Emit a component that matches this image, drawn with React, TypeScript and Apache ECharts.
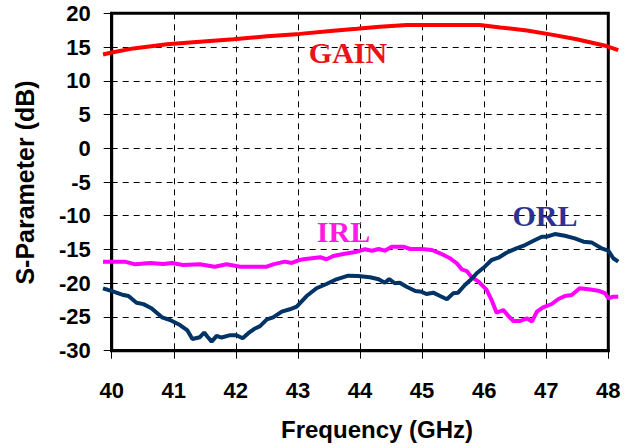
import React, { useEffect, useRef } from "react";
import * as echarts from "echarts";

const xTicks = [40, 41, 42, 43, 44, 45, 46, 47, 48];
const yTicks = [-30, -25, -20, -15, -10, -5, 0, 5, 10, 15, 20];

const gainData: number[][] = [
  [39.86, 13.9], [40.0, 14.2], [40.35, 14.8], [40.89, 15.4], [41.42, 15.8],
  [41.96, 16.15], [42.5, 16.6], [43.03, 16.95], [43.57, 17.4], [43.95, 17.7],
  [44.32, 18.0], [44.75, 18.25], [45.0, 18.25], [45.5, 18.25], [45.93, 18.25],
  [46.26, 17.9], [46.69, 17.45], [47.11, 16.8], [47.49, 16.15], [47.97, 15.15],
  [48.16, 14.55],
];

const irlData: number[][] = [
  [39.86, -16.8], [40.21, -16.8], [40.38, -17.2], [40.62, -17.0], [40.83, -17.15],
  [40.97, -17.0], [41.15, -17.3], [41.42, -17.2], [41.66, -17.55], [41.85, -17.2],
  [42.07, -17.55], [42.5, -17.55], [42.6, -17.2], [42.79, -16.8], [42.9, -17.0],
  [43.03, -16.55], [43.09, -16.45], [43.36, -16.15], [43.46, -16.45], [43.57, -15.97],
  [43.73, -15.67], [43.95, -15.33], [44.08, -14.97], [44.19, -15.18], [44.3, -14.93],
  [44.4, -15.18], [44.51, -14.59], [44.7, -14.59], [44.81, -14.93], [44.99, -14.93],
  [45.16, -15.08], [45.29, -15.57], [45.45, -16.3], [45.56, -17.05], [45.64, -17.95],
  [45.72, -18.2], [45.8, -19.1], [45.91, -19.77], [46.04, -21.0], [46.12, -22.49],
  [46.2, -24.37], [46.31, -23.97], [46.39, -24.86], [46.47, -25.6], [46.58, -25.6],
  [46.69, -25.2], [46.77, -25.7], [46.85, -24.22], [46.95, -23.57], [47.09, -23.08],
  [47.19, -22.38], [47.3, -21.9], [47.41, -21.75], [47.54, -20.75], [47.68, -20.9],
  [47.84, -21.11], [47.95, -21.5], [48.0, -22.23], [48.08, -22.0], [48.16, -22.0],
];

const orlData: number[][] = [
  [39.86, -20.75], [40.03, -21.26], [40.19, -21.75], [40.27, -21.9], [40.4, -22.9],
  [40.51, -23.1], [40.64, -23.7], [40.81, -25.05], [40.94, -25.45], [41.1, -26.2],
  [41.22, -27.0], [41.3, -28.27], [41.42, -28.0], [41.49, -27.3], [41.54, -27.9],
  [41.61, -28.65], [41.69, -27.8], [41.77, -28.05], [41.91, -27.7], [42.01, -27.7],
  [42.11, -28.15], [42.2, -27.4], [42.31, -26.7], [42.39, -26.35], [42.5, -25.35],
  [42.6, -25.05], [42.74, -24.2], [42.87, -23.86], [42.98, -23.48], [43.14, -21.9],
  [43.3, -20.75], [43.46, -20.12], [43.62, -19.42], [43.81, -18.88], [43.97, -18.93],
  [44.16, -19.12], [44.3, -19.42], [44.4, -19.92], [44.47, -19.37], [44.56, -20.0],
  [44.64, -19.92], [44.75, -20.52], [44.89, -21.15], [44.99, -21.26], [45.07, -21.6],
  [45.18, -21.4], [45.29, -21.9], [45.4, -22.38], [45.5, -21.5], [45.58, -21.4],
  [45.69, -20.26], [45.77, -19.6], [45.88, -18.53], [46.01, -17.55], [46.12, -16.56],
  [46.23, -16.22], [46.36, -15.48], [46.52, -14.83], [46.66, -14.34], [46.82, -13.6],
  [46.93, -13.11], [47.01, -13.11], [47.14, -12.71], [47.3, -12.96], [47.46, -13.35],
  [47.6, -13.85], [47.73, -13.95], [47.89, -14.83], [48.0, -15.18], [48.08, -16.3],
  [48.16, -16.81],
];

const seriesNames = ["GAIN", "IRL", "ORL"];
const xTitle = "Frequency (GHz)";
const yTitle = "S-Parameter (dB)";

export default function App() {
  const ref = useRef<HTMLDivElement>(null);
  useEffect(() => {
    if (!ref.current) return;
    const chart = echarts.init(ref.current, undefined, { renderer: "svg" });
    const sans = "Liberation Sans, Arial, sans-serif";
    const serif = "Liberation Serif, Times New Roman, serif";
    const gridLine = { show: true, lineStyle: { color: "#000", width: 1, type: [6, 5] as any } };

    // main plot box
    const L = 111.7, R = 26.7, T = 13.3, B = 97.3;
    const xMin = xTicks[0], xMax = xTicks[xTicks.length - 1];
    const ppx = (635 - L - R) / (xMax - xMin);
    // extended (invisible) grid so the traces may run past the frame, as in the reference
    const ext = 0.2;

    chart.setOption({
      animation: false,
      backgroundColor: "#fff",
      grid: [
        {
          left: L, right: R, top: T, bottom: B,
          show: true, borderColor: "#000", borderWidth: 3,
          containLabel: false, outerBoundsMode: "none",
        },
        {
          left: L - ext * ppx, right: R - ext * ppx, top: T, bottom: B,
          show: false, containLabel: false, outerBoundsMode: "none",
        },
      ],
      xAxis: [
        {
          type: "value", gridIndex: 0, min: xMin, max: xMax, interval: 1,
          axisLine: { show: true, onZero: false, lineStyle: { color: "#000", width: 3 } },
          axisTick: { show: true, inside: false, length: 8, lineStyle: { color: "#000", width: 1 } },
          axisLabel: { margin: 29, fontSize: 22, fontWeight: "bold", color: "#000", fontFamily: sans },
          splitLine: gridLine,
        },
        {
          type: "value", gridIndex: 1, min: xMin - ext, max: xMax + ext, show: false,
          splitLine: { show: false },
        },
      ],
      yAxis: [
        {
          type: "value", gridIndex: 0, min: yTicks[0], max: yTicks[yTicks.length - 1], interval: 5,
          axisLine: { show: true, onZero: false, lineStyle: { color: "#000", width: 3 } },
          axisTick: { show: true, inside: false, length: 8, lineStyle: { color: "#000", width: 1 } },
          axisLabel: { margin: 21, fontSize: 22, fontWeight: "bold", color: "#000", fontFamily: sans },
          splitLine: gridLine,
        },
        {
          type: "value", gridIndex: 1, min: yTicks[0], max: yTicks[yTicks.length - 1], show: false,
          splitLine: { show: false },
        },
      ],
      series: [
        {
          name: seriesNames[0], type: "line", data: gainData, showSymbol: false,
          xAxisIndex: 1, yAxisIndex: 1,
          lineStyle: { color: "#ff0000", width: 4 }, z: 5,
        },
        {
          name: seriesNames[1], type: "line", data: irlData, showSymbol: false,
          xAxisIndex: 1, yAxisIndex: 1,
          lineStyle: { color: "#ff00ff", width: 4 }, z: 5,
        },
        {
          name: seriesNames[2], type: "line", data: orlData, showSymbol: false,
          xAxisIndex: 1, yAxisIndex: 1,
          lineStyle: { color: "#003366", width: 4 }, z: 6,
        },
      ],
      graphic: [
        {
          type: "text", x: 377, y: 429,
          style: { text: xTitle, fill: "#000", font: `bold 24px ${sans}`, textAlign: "center", textVerticalAlign: "middle" },
        },
        {
          type: "text", x: 25, y: 182.5, rotation: Math.PI / 2,
          style: { text: yTitle, fill: "#000", font: `bold 25px ${sans}`, textAlign: "center", textVerticalAlign: "middle" },
        },
        {
          type: "text", x: 348, y: 52, z: 10,
          style: { text: seriesNames[0], fill: "#e8141a", font: `bold 30px ${serif}`, textAlign: "center", textVerticalAlign: "middle" },
        },
        {
          type: "text", x: 343.5, y: 231.5, z: 10,
          style: { text: seriesNames[1], fill: "#ff1ae8", font: `bold 30px ${serif}`, textAlign: "center", textVerticalAlign: "middle" },
        },
        {
          type: "text", x: 545, y: 215, z: 10,
          style: { text: seriesNames[2], fill: "#2e3192", font: `bold 30px ${serif}`, textAlign: "center", textVerticalAlign: "middle" },
        },
      ],
    });
    return () => chart.dispose();
  }, []);
  return (
    <div
      ref={ref}
      style={{ position: "fixed", left: 0, top: 0, width: 635, height: 448, background: "#fff" }}
    />
  );
}
